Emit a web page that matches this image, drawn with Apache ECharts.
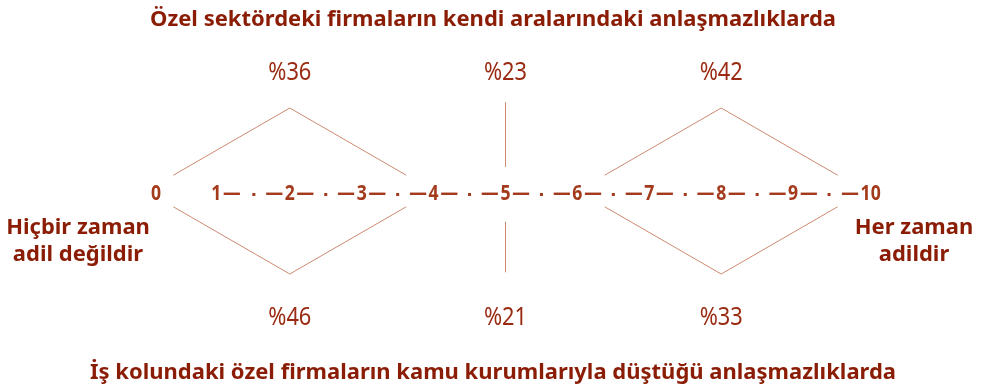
<!DOCTYPE html>
<html>
<head>
<meta charset="utf-8">
<script src="https://cdn.jsdelivr.net/npm/echarts@6/dist/echarts.min.js"></script>
<style>
  html, body { margin: 0; padding: 0; background: #fff; }
  #chart { width: 986px; height: 390px; }
</style>
</head>
<body>
<div id="chart"></div>
<script>
// Ölçek: 0 (Hiçbir zaman adil değildir) - 10 (Her zaman adildir)
var scaleTicks = [0, 1, 2, 3, 4, 5, 6, 7, 8, 9, 10];
var groupRanges = [[0, 4], [5, 5], [6, 10]];
var topPercents = [36, 23, 42];     // özel sektör firmaları arasında
var bottomPercents = [46, 21, 33];  // kamu kurumlarıyla
var topTitle = 'Özel sektördeki firmaların kendi aralarındaki anlaşmazlıklarda';
var bottomTitle = 'İş kolundaki özel firmaların kamu kurumlarıyla düştüğü anlaşmazlıklarda';
var leftLabel = 'Hiçbir zaman\nadil değildir';
var rightLabel = 'Her zaman\nadildir';

var darkRed = '#8b1d06';
var midRed = '#9a2b12';
var tickRed = '#a43a1c';
var lineColor = '#cc8a70';
var font = '"Noto Sans", "Open Sans", sans-serif';

var chart = echarts.init(document.getElementById('chart'));

var groupData = groupRanges.map(function (r, i) {
  return [r[0], r[1], topPercents[i], bottomPercents[i]];
});

// ara noktalar (1.5, 2.5 ... 9.5)
var dotData = [];
for (var i = 1; i < scaleTicks.length - 1; i++) {
  dotData.push([(scaleTicks[i] + scaleTicks[i + 1]) / 2]);
}

function renderGroup(params, api) {
  var x0 = api.value(0), x1 = api.value(1);
  var xc = (x0 + x1) / 2;
  var children = [];
  var style = { stroke: lineColor, lineWidth: 1, fill: null };
  if (x0 === x1) {
    var a = api.coord([xc, 1.07]), b = api.coord([xc, 0.29]);
    var c = api.coord([xc, -0.37]), d = api.coord([xc, -0.98]);
    children.push({ type: 'line', shape: { x1: a[0], y1: a[1], x2: b[0], y2: b[1] }, style: style });
    children.push({ type: 'line', shape: { x1: c[0], y1: c[1], x2: d[0], y2: d[1] }, style: style });
  } else {
    var gap = 0.19;
    var half = (x1 - x0) / 2;
    [1, -1].forEach(function (s) {
      var apex = api.coord([xc, s]);
      var l = api.coord([x0 + half * gap, s * gap]);
      var r = api.coord([x1 - half * gap, s * gap]);
      children.push({ type: 'polyline', shape: { points: [l, apex, r] }, style: style });
    });
  }
  var pt = api.coord([xc, 1.43]);
  var pb = api.coord([xc, -1.53]);
  [[pt, api.value(2)], [pb, api.value(3)]].forEach(function (p) {
    children.push({
      type: 'text', x: p[0][0], y: p[0][1], scaleX: 0.84,
      style: { text: '%' + p[1], fill: midRed, font: '26px ' + font, align: 'center', verticalAlign: 'middle' }
    });
  });
  return { type: 'group', children: children };
}

function renderTick(params, api) {
  var v = api.value(0);
  var p = api.coord([v, 0]);
  var first = v === scaleTicks[0];
  var last = v === scaleTicks[scaleTicks.length - 1];
  var text = String(v), dx = 0;
  if (first) {
    dx = 10;
  } else if (v === scaleTicks[1]) {
    text = v + '\u200a—'; dx = 8;
  } else if (last) {
    text = '—\u200a' + v; dx = -4;
  } else {
    text = '—\u200a' + v + '\u200a—';
  }
  return {
    type: 'text', x: p[0] + dx, y: p[1] + 3, scaleX: 0.8,
    style: { text: text, fill: tickRed, font: 'bold 22px ' + font, align: 'center', verticalAlign: 'middle' }
  };
}

function renderDot(params, api) {
  var p = api.coord([api.value(0), 0]);
  return {
    type: 'rect',
    shape: { x: p[0] - 1.5, y: p[1] + 2, width: 3, height: 3 },
    style: { fill: tickRed }
  };
}

var sideText = { color: darkRed, fontSize: 22, fontWeight: 'bold', fontFamily: font, lineHeight: 27 };

var option = {
  animation: false,
  title: [
    { text: topTitle, left: 'center', top: 4, textStyle: { color: darkRed, fontSize: 22, fontWeight: 'bold', fontFamily: font } },
    { text: bottomTitle, left: 'center', top: 357, textStyle: { color: darkRed, fontSize: 22, fontWeight: 'bold', fontFamily: font } },
    { text: leftLabel, left: 73, top: 209, textAlign: 'center', textStyle: sideText },
    { text: rightLabel, left: 909, top: 209, textAlign: 'center', textStyle: sideText }
  ],
  grid: { left: 146, right: 121, top: 108, bottom: 116 },
  xAxis: {
    type: 'value', min: 0, max: 10, interval: 1,
    axisLine: { show: false }, axisTick: { show: false }, splitLine: { show: false },
    axisLabel: { show: false }
  },
  yAxis: { type: 'value', min: -1, max: 1, show: false },
  series: [{
    type: 'custom',
    renderItem: renderGroup,
    data: groupData,
    clip: false,
    silent: true
  }, {
    type: 'custom',
    renderItem: renderTick,
    data: scaleTicks.map(function (t) { return [t]; }),
    clip: false,
    silent: true
  }, {
    type: 'custom',
    renderItem: renderDot,
    data: dotData,
    clip: false,
    silent: true
  }]
};
chart.setOption(option);
</script>
</body>
</html>
